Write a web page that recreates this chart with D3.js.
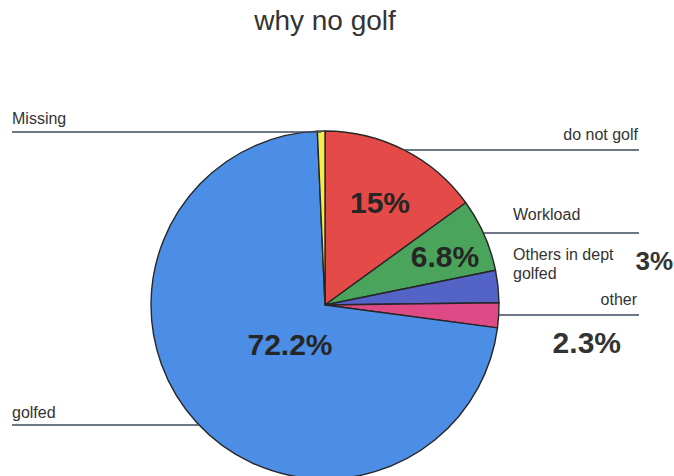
<!DOCTYPE html>
<html><head><meta charset="utf-8">
<script src="https://cdn.jsdelivr.net/npm/d3@7"></script>
<style>body{margin:0;background:#fff}svg{display:block}</style>
</head><body>
<svg id="c" width="674" height="476"></svg>
<script>
// data (clockwise from 12 o'clock)
const categories = ["do not golf", "Workload", "Others in dept golfed", "other", "golfed", "Missing"];
const values = [15, 6.8, 3, 2.3, 72.2, 0.7];
const colors = ["#e44a48", "#4ba45b", "#5463c6", "#de4a86", "#4c8ee6", "#f6eb4a"];
const valueLabels = ["15%", "6.8%", "3%", "2.3%", "72.2%", ""];

const W = 674, H = 476;
const cx = 325, cy = 305, R = 174;
const font = "Liberation Sans, Arial, sans-serif";
const svg = d3.select("#c");

svg.append("text").attr("x", 325).attr("y", 30).attr("text-anchor", "middle")
  .attr("font-family", font).attr("font-size", 28)
  .attr("fill", "#333").text("why no golf");

const pie = d3.pie().value(d => d).sort(null);
const arcs = pie(values);
const arc = d3.arc().innerRadius(0).outerRadius(R);
const g = svg.append("g").attr("transform", `translate(${cx},${cy})`);
g.selectAll("path").data(arcs).enter().append("path")
  .attr("d", arc).attr("fill", (d, i) => colors[i])
  .attr("stroke", "#262626").attr("stroke-width", 1.4).attr("stroke-linejoin", "round");

// in-slice percentage labels (centre x, baseline y)
const inPos = {0: [380, 213], 1: [445, 267], 4: [290, 355]};
Object.keys(inPos).forEach(k => {
  const i = +k;
  svg.append("text")
    .attr("x", inPos[i][0]).attr("y", inPos[i][1])
    .attr("text-anchor", "middle")
    .attr("font-family", font).attr("font-weight", "bold")
    .attr("font-size", 30).attr("fill", "#262626").text(valueLabels[i]);
});

// leader lines from the pie edge
function edgeX(y, side) {
  const dy = y - cy;
  const dx = Math.sqrt(Math.max(0, R * R - dy * dy));
  return side > 0 ? cx + dx : cx - dx;
}
const leaders = [
  {y: 132, side: -1, x0: 12, x1: 321},
  {y: 150, side: 1},
  {y: 233, side: 1},
  {y: 315, side: 1},
  {y: 425, side: -1}
];
leaders.forEach(L => {
  let xa, xb;
  if (L.side > 0) { xa = edgeX(L.y, 1); xb = 639; }
  else if (L.x1) { xa = L.x0; xb = L.x1; }
  else { xa = 12; xb = edgeX(L.y, -1); }
  svg.append("line").attr("x1", xa).attr("x2", xb).attr("y1", L.y).attr("y2", L.y)
    .attr("stroke", "#3c4a5e").attr("stroke-width", 1.5);
});

function txt(x, y, s, anchor, size, weight) {
  svg.append("text").attr("x", x).attr("y", y).attr("text-anchor", anchor || "start")
    .attr("font-family", font).attr("font-size", size || 16)
    .attr("font-weight", weight || "normal").attr("fill", "#333").text(s);
}
txt(12, 124, categories[5]);
txt(638, 140, categories[0], "end");
txt(513, 220, categories[1]);
txt(513, 260, "Others in dept");
txt(513, 279, "golfed");
txt(673, 270, valueLabels[2], "end", 26, "bold");
txt(637, 305, categories[3], "end");
txt(621, 353, valueLabels[3], "end", 30, "bold");
txt(12, 418, categories[4]);
</script>
</body></html>
